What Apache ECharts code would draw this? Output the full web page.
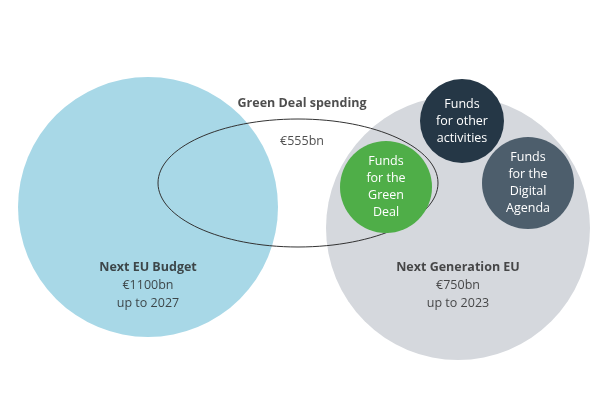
<!DOCTYPE html>
<html>
<head>
<meta charset="utf-8">
<script src="https://cdn.jsdelivr.net/npm/echarts@6/dist/echarts.min.js"></script>
<style>html,body{margin:0;padding:0;background:#fff}#chart{width:600px;height:414px}</style>
</head>
<body>
<div id="chart"></div>
<script>
// big circles: [x, y, diameter]
var bigCircles = [[148, 207, 260], [458, 228, 264]];
var bigColors = ['#a8d8e7', '#d5d8dd'];
var bigTitles = ['Next EU Budget', 'Next Generation EU'];
var bigValues = ['€1100bn', '€750bn'];
var bigYears = ['up to 2027', 'up to 2023'];
var bigLabelPos = [[148, 285], [458, 285]];

// fund circles
var funds = [[386, 187, 92], [462, 121, 84], [528, 183, 92]];
var fundColors = ['#4fae48', '#253746', '#4d5e6c'];
var fundLabels = ['Funds\nfor the\nGreen\nDeal', 'Funds\nfor other\nactivities', 'Funds\nfor the\nDigital\nAgenda'];

// green deal ellipse: [cx, cy, rx, ry]
var ellipse = [298, 183, 140, 64];
var ellipseTitle = 'Green Deal spending';
var ellipseValue = '€555bn';

var font = '"Open Sans", sans-serif';
var chart = echarts.init(document.getElementById('chart'));
chart.setOption({
  animation: false,
  grid: {left: 0, right: 0, top: 0, bottom: 0},
  xAxis: {type: 'value', min: 0, max: 600, show: false},
  yAxis: {type: 'value', min: 0, max: 414, inverse: true, show: false},
  series: [
    {
      type: 'scatter', z: 1, silent: true,
      data: bigCircles.map(function (c, i) {
        return {value: [c[0], c[1]], symbolSize: c[2], itemStyle: {color: bigColors[i], opacity: 1}};
      })
    },
    {
      type: 'custom', z: 2, silent: true,
      data: [ellipse],
      renderItem: function (params, api) {
        var c = api.coord([api.value(0), api.value(1)]);
        var e = api.coord([api.value(0) + api.value(2), api.value(1) + api.value(3)]);
        return {
          type: 'ellipse',
          shape: {cx: c[0], cy: c[1], rx: e[0] - c[0], ry: e[1] - c[1]},
          style: {fill: 'none', stroke: '#333', lineWidth: 1}
        };
      }
    },
    {
      type: 'scatter', z: 3, silent: true,
      data: funds.map(function (c, i) {
        return {value: [c[0], c[1]], symbolSize: c[2], itemStyle: {color: fundColors[i], opacity: 1},
          label: {show: true, position: 'inside', formatter: fundLabels[i], color: '#fff',
            fontFamily: font, fontSize: 12.5, lineHeight: 17}};
      })
    },
    {
      type: 'scatter', z: 4, silent: true, symbolSize: 0,
      data: bigLabelPos.map(function (p, i) {
        return {value: p, label: {show: true, position: 'inside',
          formatter: '{b|' + bigTitles[i] + '}\n' + bigValues[i] + '\n' + bigYears[i]}};
      }).concat([
        {value: [302, 103], label: {show: true, position: 'inside', formatter: '{b|' + ellipseTitle + '}'}},
        {value: [302, 141], label: {show: true, position: 'inside', formatter: ellipseValue}}
      ]),
      label: {color: '#222', fontFamily: font, fontSize: 12.5, lineHeight: 18,
        rich: {b: {fontWeight: 'bold', fontFamily: font, fontSize: 12.5, color: '#222', lineHeight: 18}}}
    }
  ]
});
</script>
</body>
</html>
